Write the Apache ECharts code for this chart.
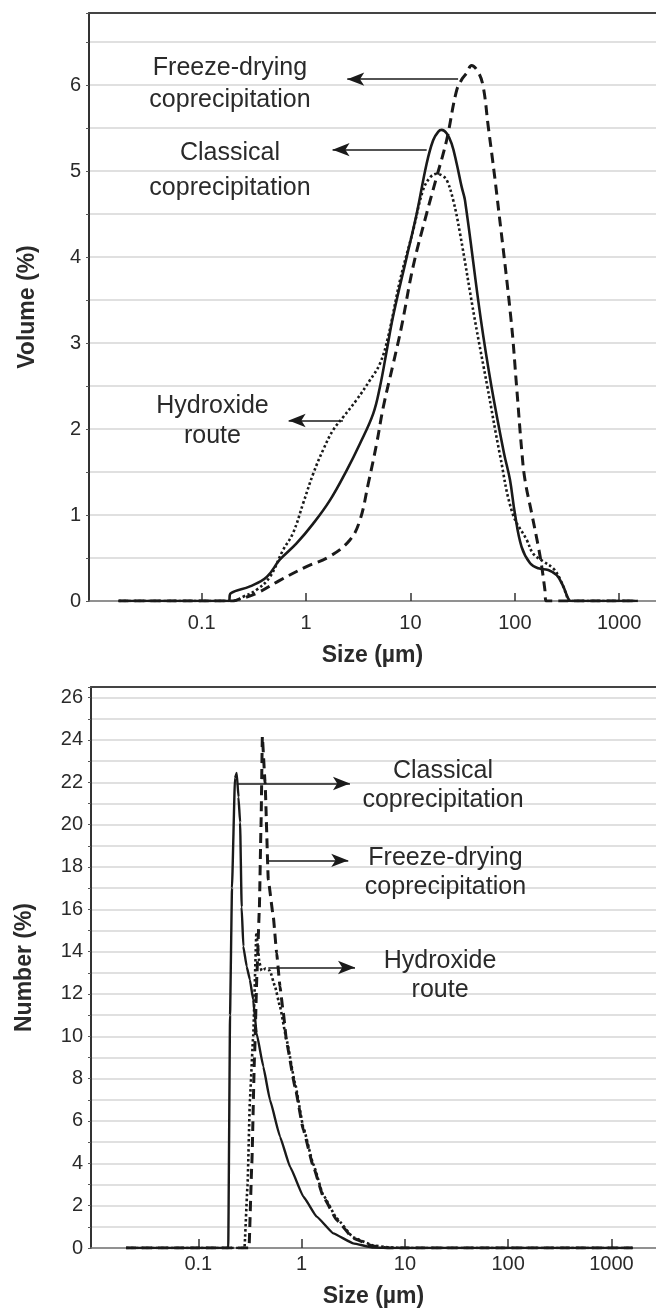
<!DOCTYPE html>
<html>
<head>
<meta charset="utf-8">
<script src="https://cdn.jsdelivr.net/npm/echarts@6/dist/echarts.min.js"></script>
<style>
html, body { margin: 0; padding: 0; background: #fff; }
#chart { width: 656px; height: 1312px; }
</style>
</head>
<body>
<div id="chart"></div>
<script>
// upper panel: volume distribution (%), size in um
var volSizeClassical = [0.016, 0.1, 0.18, 0.19, 0.29, 0.42, 0.56, 0.81, 1.17, 1.69, 2.45, 3.28, 4.4, 5.1, 5.9, 6.84, 9.2, 11.5, 14.3, 16.5, 18.5, 19.9, 22.2, 24.8, 27.7, 30.9, 33.3, 47.3, 59.8, 78.7, 89.8, 100, 116, 140, 168, 209, 252, 291, 324, 344, 1500];
var volClassical = [0, 0, 0, 0.09, 0.17, 0.28, 0.48, 0.67, 0.9, 1.17, 1.52, 1.83, 2.18, 2.49, 2.9, 3.32, 4.0, 4.51, 5.09, 5.36, 5.46, 5.48, 5.44, 5.32, 5.09, 4.82, 4.66, 3.27, 2.49, 1.72, 1.41, 1.02, 0.63, 0.44, 0.38, 0.36, 0.3, 0.17, 0.03, 0, 0];

var volSizeHydroxide = [0.016, 0.1, 0.2, 0.25, 0.336, 0.45, 0.6, 0.75, 0.94, 1.17, 1.46, 1.82, 2.27, 3.05, 4.1, 5.1, 6.1, 7.94, 10.6, 13.2, 15.5, 17.8, 20, 22.2, 25.7, 29.8, 41.4, 54.6, 72, 95, 130, 150, 187, 233, 270, 313, 330, 1500];
var volHydroxide = [0, 0, 0, 0.05, 0.13, 0.28, 0.59, 0.79, 1.14, 1.48, 1.76, 1.99, 2.14, 2.34, 2.57, 2.76, 3.07, 3.73, 4.31, 4.78, 4.93, 4.97, 4.95, 4.9, 4.66, 4.28, 3.27, 2.49, 1.7, 1.02, 0.71, 0.55, 0.46, 0.38, 0.26, 0.07, 0, 0];

var volSizeFreeze = [0.016, 0.1, 0.2, 0.216, 0.336, 0.56, 1.01, 1.69, 2.63, 3.28, 3.95, 4.74, 5.5, 6.84, 8.24, 10.6, 14.3, 17.8, 22.2, 27.7, 31.5, 34.5, 38.5, 44.7, 49.8, 55.6, 61.2, 67, 92, 104, 117, 125, 145, 168, 181, 194, 200, 1500];
var volFreeze = [0, 0, 0, 0.01, 0.09, 0.24, 0.4, 0.52, 0.71, 0.94, 1.37, 1.83, 2.26, 2.76, 3.2, 3.89, 4.51, 4.93, 5.36, 5.94, 6.08, 6.14, 6.23, 6.15, 5.98, 5.52, 5.13, 4.74, 3.27, 2.49, 1.72, 1.41, 1.02, 0.63, 0.4, 0.13, 0, 0];

// lower panel: number distribution (%)
var numSizeClassical = [0.02, 0.1, 0.195, 0.203, 0.212, 0.2265, 0.2355, 0.245, 0.254, 0.263, 0.273, 0.294, 0.316, 0.34, 0.367, 0.426, 0.494, 0.618, 0.773, 1.04, 1.4, 2.03, 3.16, 4.94, 7, 1600];
var numClassical = [0, 0, 0, 11, 17, 22.2, 22.44, 21.3, 20.1, 16.1, 14.25, 13.3, 12.67, 11.73, 10.15, 8.57, 7.0, 5.26, 3.84, 2.43, 1.48, 0.69, 0.22, 0.02, 0, 0];

var numSizeFreeze = [0.02, 0.1, 0.31, 0.33, 0.35, 0.37, 0.39, 0.405, 0.417, 0.443, 0.476, 0.532, 0.574, 0.618, 0.666, 0.718, 0.863, 1.04, 1.3, 1.62, 2.19, 3.16, 4.94, 7, 1600];
var numFreeze = [0, 0, 0, 4, 9, 13, 16, 20, 24.15, 22, 17.4, 15.66, 13.93, 12.35, 11.1, 9.68, 7.63, 5.58, 3.84, 2.43, 1.32, 0.46, 0.09, 0, 0];

var numSizeHydroxide = [0.02, 0.1, 0.28, 0.3, 0.316, 0.34, 0.365, 0.39, 0.41, 0.45, 0.494, 0.553, 0.618, 0.718, 0.863, 1.04, 1.3, 1.62, 2.19, 3.16, 4.94, 7, 10, 1600];
var numHydroxide = [0, 0, 0, 3, 7, 10, 14.9, 13.5, 13.1, 13.2, 13.1, 12.35, 11.4, 9.8, 7.8, 5.7, 3.95, 2.5, 1.4, 0.5, 0.12, 0.03, 0, 0];

// ticks
var sizeTicks = [0.1, 1, 10, 100, 1000];
var volTicks = [0, 1, 2, 3, 4, 5, 6];
var numTicks = [0, 2, 4, 6, 8, 10, 12, 14, 16, 18, 20, 22, 24, 26];

var FONT = '"Liberation Sans", Arial, sans-serif';
var INK = '#1a1a1a';
var TXT = '#2a2a2a';

function pairs(xs, ys) {
    return xs.map(function (x, i) { return [x, ys[i]]; });
}

function curve(name, xs, ys, xi, yi, dash, width, smooth, mono) {
    return {
        name: name,
        type: 'line',
        xAxisIndex: xi,
        yAxisIndex: yi,
        data: pairs(xs, ys),
        symbol: 'none',
        smooth: smooth,
        smoothMonotone: mono,
        silent: true,
        lineStyle: { color: INK, width: width, type: dash, cap: 'butt', join: 'round' }
    };
}

function arrow(x1, x2, y) {
    return [{ coord: [x1, y], symbol: 'none' }, { coord: [x2, y], symbol: 'arrow', symbolSize: [10, 17] }];
}

function note(text, x, y, lh) {
    return { coord: [x, y], symbol: 'circle', symbolSize: 0, label: { formatter: text, lineHeight: lh } };
}

function sizeAxis(grid, min, max, margin, tickLen) {
    return {
        type: 'log', gridIndex: grid, min: min, max: max, logBase: 10,
        name: 'Size (\u00b5m)', nameLocation: 'middle', nameGap: margin + 31,
        nameTextStyle: { fontFamily: FONT, fontWeight: 'bold', fontSize: 23, color: TXT },
        axisLine: { lineStyle: { color: '#777', width: 1.5 } },
        axisTick: { show: true, inside: true, length: tickLen, customValues: sizeTicks, lineStyle: { color: '#333', width: 1.5 } },
        axisLabel: {
            customValues: sizeTicks, margin: margin, fontFamily: FONT, fontSize: 20, color: TXT,
            formatter: function (v) { return String(+(+v).toPrecision(3)); }
        },
        splitLine: { show: false },
        minorTick: { show: false }
    };
}

function borderAxis(grid) {
    return {
        type: 'value', gridIndex: grid, position: 'top', min: 0, max: 1,
        axisLine: { show: true, lineStyle: { color: '#444', width: 2 } },
        axisTick: { show: false }, axisLabel: { show: false }, splitLine: { show: false }
    };
}

function valueAxis(grid, name, max, interval, labels, gap) {
    return {
        type: 'value', gridIndex: grid, min: 0, max: max, interval: interval,
        name: name, nameLocation: 'middle', nameGap: gap,
        nameTextStyle: { fontFamily: FONT, fontWeight: 'bold', fontSize: 23, color: TXT },
        axisLine: { show: true, lineStyle: { color: '#333', width: 2 } },
        axisTick: { show: true, length: 3, lineStyle: { color: '#555' } },
        axisLabel: { customValues: labels, margin: 8, fontFamily: FONT, fontSize: 20, color: TXT },
        splitLine: { show: true, lineStyle: { color: '#d6d6d6', width: 1.5 } }
    };
}

var noteLabel = { show: true, position: 'inside', fontFamily: FONT, fontSize: 25, color: TXT, align: 'center', verticalAlign: 'middle' };

var chart = echarts.init(document.getElementById('chart'));

var topClassical = curve('Classical coprecipitation', volSizeClassical, volClassical, 0, 0, 'solid', 2.6, 0.4, null);
topClassical.markLine = {
    silent: true, animation: false,
    label: { show: false },
    lineStyle: { color: INK, width: 1.6, type: 'solid' },
    data: [
        arrow(28.6, 2.48, 6.07),
        arrow(14.3, 1.795, 5.25),
        arrow(2.257, 0.681, 2.10)
    ]
};
topClassical.markPoint = {
    silent: true, animation: false,
    label: noteLabel,
    data: [
        note('Freeze-drying\ncoprecipitation', 0.1866, 6.01, 32),
        note('Classical\ncoprecipitation', 0.1866, 5.01, 35),
        note('Hydroxide\nroute', 0.1269, 2.093, 30)
    ]
};

var botClassical = curve('Classical coprecipitation', numSizeClassical, numClassical, 2, 1, 'solid', 2.4, 0.1, 'x');
botClassical.markLine = {
    silent: true, animation: false,
    label: { show: false },
    lineStyle: { color: INK, width: 1.6, type: 'solid' },
    data: [
        arrow(0.2355, 2.94, 21.94),
        arrow(0.459, 2.83, 18.31),
        arrow(0.476, 3.29, 13.25)
    ]
};
botClassical.markPoint = {
    silent: true, animation: false,
    label: noteLabel,
    data: [
        note('Classical\ncoprecipitation', 23.4, 21.84, 29),
        note('Freeze-drying\ncoprecipitation', 24.7, 17.74, 29),
        note('Hydroxide\nroute', 21.9, 12.86, 29)
    ]
};

var option = {
    animation: false,
    backgroundColor: '#fff',
    textStyle: { fontFamily: FONT },
    grid: [
        { left: 89, right: 0, top: 13, height: 588 },
        { left: 91, right: 0, top: 687, height: 561 }
    ],
    xAxis: [
        sizeAxis(0, 0.00833, 2250, 12, 8),
        borderAxis(0),
        sizeAxis(1, 0.00915, 2698, 6, 9),
        borderAxis(1)
    ],
    yAxis: [
        valueAxis(0, 'Volume (%)', 6.84, 0.5, volTicks, 50),
        valueAxis(1, 'Number (%)', 26.5, 1, numTicks, 55)
    ],
    series: [
        curve('Freeze-drying coprecipitation', volSizeFreeze, volFreeze, 0, 0, [10, 6], 3, 0.4, null),
        curve('Hydroxide route', volSizeHydroxide, volHydroxide, 0, 0, [2.5, 2.5], 2.6, 0.4, null),
        topClassical,
        curve('Freeze-drying coprecipitation', numSizeFreeze, numFreeze, 2, 1, [10, 6], 3, 0.1, 'x'),
        curve('Hydroxide route', numSizeHydroxide, numHydroxide, 2, 1, [2.5, 2.5], 2.6, 0.1, 'x'),
        botClassical
    ]
};

chart.setOption(option);
</script>
</body>
</html>
